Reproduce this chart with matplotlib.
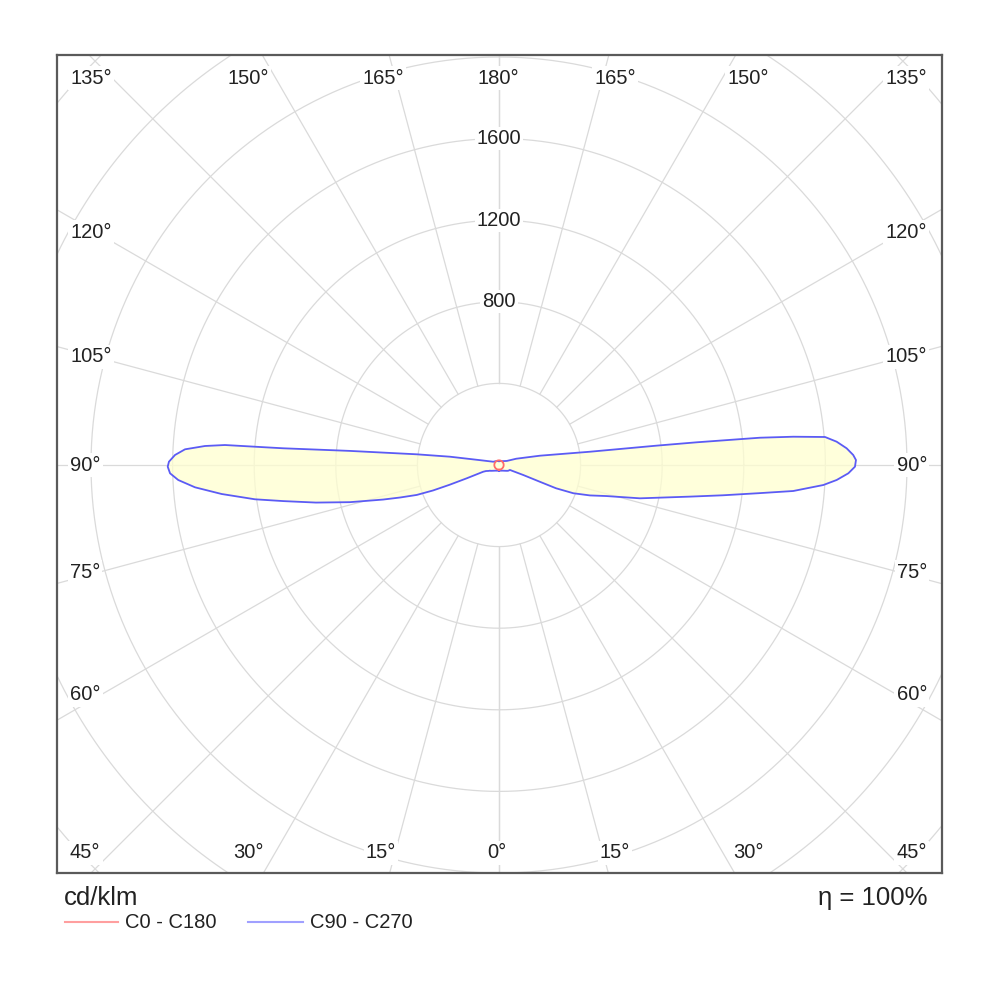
import numpy as np
import matplotlib
matplotlib.use("Agg")
import matplotlib.pyplot as plt

plt.rcParams['font.family'] = ['Liberation Sans', 'DejaVu Sans']

# ---------------- data (cd/klm) ----------------
# C90 half-plane (drawn on the right)
c90_gamma = [0, 15, 30, 45, 55, 60, 64, 65.6, 67.6, 67.7, 67.8, 69.2, 71.5, 73.9, 76.7, 80.6, 82.3,
             83.8, 84.95, 86.47, 87.46, 88.64, 89.73, 90.8, 91.62, 92.75, 93.95, 94.91,
             95.49, 95.97, 96.55, 97.0, 98.3, 102.8, 110, 117.5, 135, 150, 165, 180]
c90_value = [28, 29, 32, 40, 50, 55, 57, 59, 129, 217, 302, 390, 470, 549, 710, 949, 1108,
             1280, 1448, 1593, 1657, 1713, 1745, 1750, 1737, 1706, 1659, 1604,
             1449, 1286, 975, 779, 451, 206, 90, 43, 27, 22, 20, 18]
# C270 half-plane (drawn on the left)
c270_gamma = [0, 15, 30, 45, 55, 57.7, 60, 65, 66.9, 67.6, 68.2, 68.9, 70, 71.8, 73.4, 76, 78.4,
              80.5, 82.0, 84.03, 85.8, 87.32, 88.55, 89.71, 90.57, 91.77, 92.86, 93.7,
              94.17, 94.33, 94.43, 95.4, 97.4, 99.6, 104, 110, 120, 135, 150, 165, 180]
c270_value = [28, 29, 32, 40, 50, 52, 58, 70, 84, 171, 260, 347, 429, 510, 593, 753, 916,
              1072, 1208, 1367, 1494, 1574, 1613, 1624, 1618, 1589, 1541, 1444,
              1347, 1150, 1060, 734, 407, 244, 100, 55, 32, 26, 22, 20, 18]
# C0 - C180
c0_gamma = [0, 15, 30, 45, 60, 75, 90, 105, 120, 135, 150, 165, 180]
c0_value = [23, 23, 23, 23, 23, 23, 23, 23, 23, 23, 23, 23, 23]
c180_gamma = [0, 15, 30, 45, 60, 75, 90, 105, 120, 135, 150, 165, 180]
c180_value = [23, 23, 23, 23, 23, 23, 23, 23, 23, 23, 23, 23, 23]

ring_values = [400, 800, 1200, 1600, 2000, 2400, 2800, 3200]
ring_labels = [800, 1200, 1600]
angle_ticks = list(range(0, 181, 15))

unit_text = "cd/klm"
eta_text = "η = 100%"
legend_names = ["C0 - C180", "C90 - C270"]

# ---------------- helpers ----------------
def to_xy(gamma, value, side):
    g = np.radians(np.asarray(gamma, float))
    v = np.asarray(value, float)
    return side * v * np.sin(g), -v * np.cos(g)

# ---------------- figure ----------------
fig = plt.figure(figsize=(10, 10), dpi=100)
ax = fig.add_axes([0.057, 0.127, 0.885, 0.818])
px = 0.204  # pixels per cd
ax.set_xlim(-442 / px, 443 / px)
ax.set_ylim(-(873 - 465) / px, (465 - 55) / px)
ax.set_xticks([]); ax.set_yticks([])
for s in ax.spines.values():
    s.set_color('#5a5a5a'); s.set_linewidth(1.6)

grid_c = '#dadada'
th = np.linspace(0, 2 * np.pi, 721)
for r in ring_values:
    ax.plot(r * np.cos(th), r * np.sin(th), color=grid_c, lw=0.9, zorder=1)
for a in angle_ticks:
    for side in (1, -1):
        x, y = to_xy([a, a], [ring_values[0], 4000], side)
        ax.plot(x, y, color=grid_c, lw=0.9, zorder=1)

# C90 - C270 outline
xr, yr = to_xy(c90_gamma, c90_value, 1)
xl, yl = to_xy(c270_gamma[::-1], c270_value[::-1], -1)
X = np.concatenate([xr, xl, xr[:1]])
Y = np.concatenate([yr, yl, yr[:1]])
ax.fill(X, Y, color='#ffffd0', alpha=0.75, lw=0, zorder=2)
ax.plot(X, Y, color='#5b5bf5', lw=1.3, zorder=3, solid_joinstyle='round')

# C0 - C180
x0, y0 = to_xy(c0_gamma, c0_value, 1)
x1, y1 = to_xy(c180_gamma[::-1], c180_value[::-1], -1)
ax.plot(np.concatenate([x0, x1]), np.concatenate([y0, y1]), color='#ff6b6b', lw=1.3, zorder=4)

# ring labels
bb = dict(facecolor='white', edgecolor='none', pad=1.5)
for r in ring_labels:
    ax.text(0, r, str(r), ha='center', va='center', fontsize=14.5, color='#222222',
            bbox=bb, zorder=5)

# angle labels (layout in figure pixels)
def fpos(xp, yp):
    return xp / 1000, 1 - yp / 1000

top_y, bot_y = 78, 853
top_x = {135: [70, 927], 150: [248, 748], 165: [383, 615], 180: [498]}
bot_x = {45: [70, 927], 30: [248, 748], 15: [381, 615], 0: [497]}
side_y = {120: 232, 105: 357, 90: 465, 75: 572, 60: 695}
lab = dict(va='center', fontsize=14.5, color='#222222', bbox=bb, zorder=5)
for row_y, row in ((top_y, top_x), (bot_y, bot_x)):
    for a, xs in row.items():
        for i, xp in enumerate(xs):
            ha = 'center'
            if a in (45, 135):
                ha = 'left' if i == 0 else 'right'
            fig.text(*fpos(xp, row_y), f"{a}°", ha=ha, **lab)
for a, yp in side_y.items():
    fig.text(*fpos(70, yp), f"{a}°", ha='left', **lab)
    fig.text(*fpos(927, yp), f"{a}°", ha='right', **lab)

# footer
fig.text(*fpos(64, 898), unit_text, ha='left', va='center', fontsize=18.5, color='#222222')
fig.text(*fpos(927, 898), eta_text, ha='right', va='center', fontsize=18.5, color='#222222')
fig.add_artist(plt.Line2D([0.065, 0.118], [1 - 0.922, 1 - 0.922], color='#ff9f9f', lw=1.5,
                          transform=fig.transFigure))
fig.text(*fpos(125, 923), legend_names[0], ha='left', va='center', fontsize=14.5, color='#222222')
fig.add_artist(plt.Line2D([0.248, 0.303], [1 - 0.922, 1 - 0.922], color='#a0a0ff', lw=1.5,
                          transform=fig.transFigure))
fig.text(*fpos(310, 923), legend_names[1], ha='left', va='center', fontsize=14.5, color='#222222')

fig.savefig('out.png', dpi=100, facecolor='white')
